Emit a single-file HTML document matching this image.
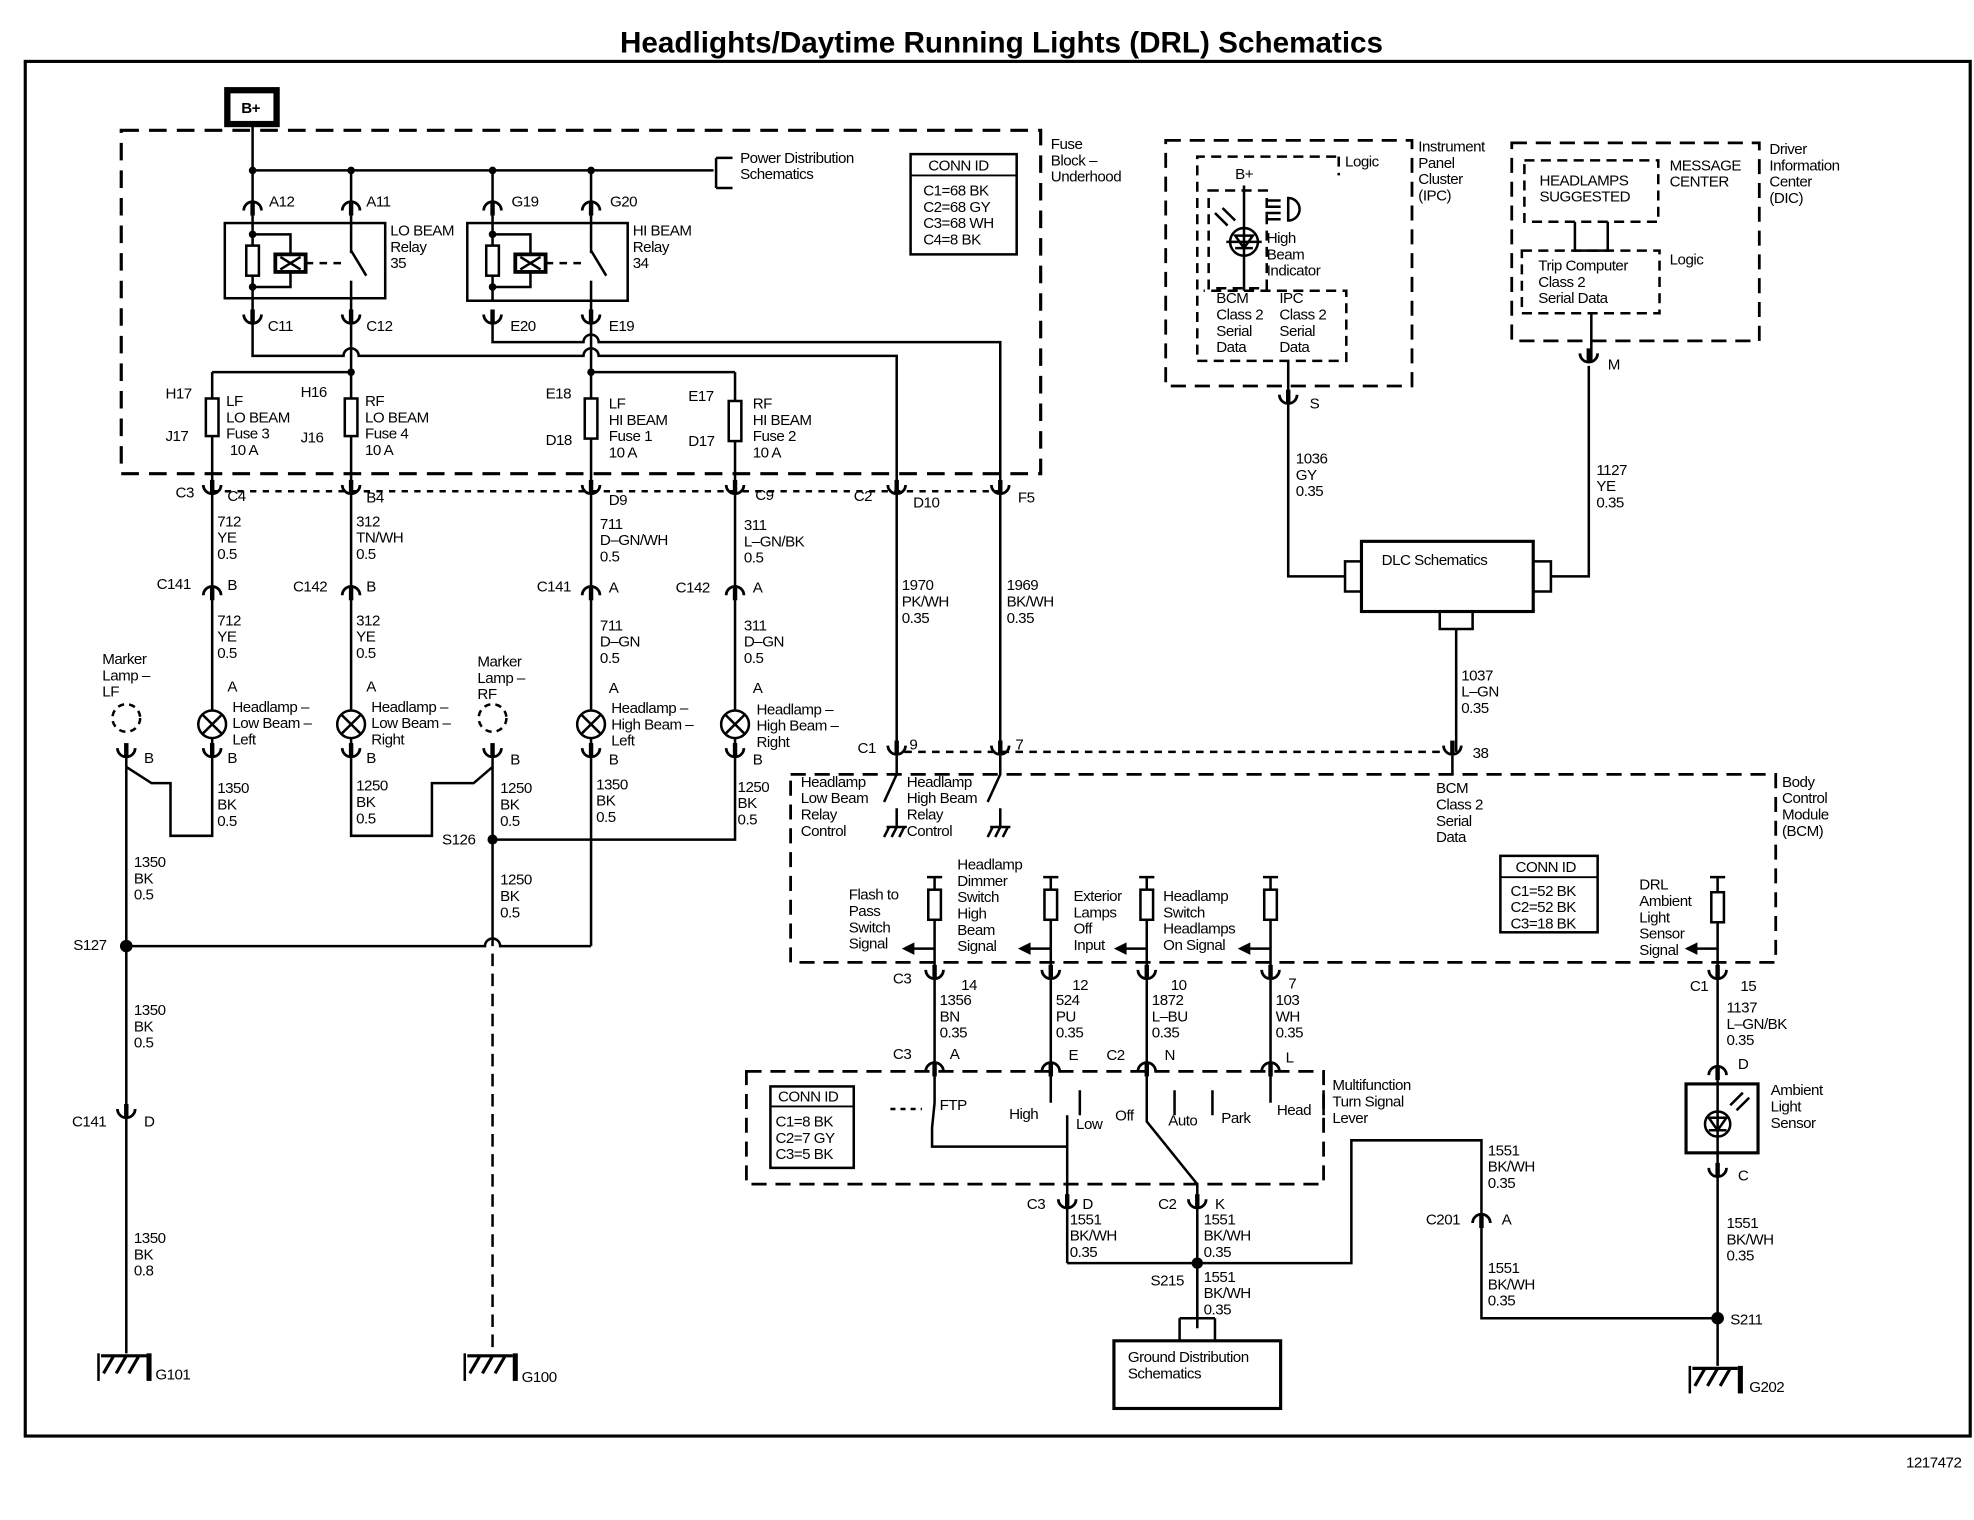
<!DOCTYPE html>
<html><head><meta charset="utf-8"><style>
html,body{margin:0;padding:0;background:#fff}
svg{display:block}
text{font-family:"Liberation Sans",Arial,sans-serif;font-size:12px;fill:#000;letter-spacing:-0.4px}
</style></head><body>
<svg width="1974" height="1520" viewBox="0 0 1563 1213" preserveAspectRatio="none" xmlns="http://www.w3.org/2000/svg">
<defs>
<g id="cup"><path d="M-7,-8 A7,7 0 0 0 7,-8" fill="none" stroke="#000" stroke-width="2.2"/><line x1="0" y1="-12" x2="0" y2="-2" stroke="#000" stroke-width="3.5"/></g>
<g id="cap"><path d="M-7,8 A7,7 0 0 1 7,8" fill="none" stroke="#000" stroke-width="2.2"/><line x1="0" y1="2" x2="0" y2="12" stroke="#000" stroke-width="3.5"/></g>
<g id="lamp"><circle cx="0" cy="0" r="11" fill="#fff" stroke="#000" stroke-width="2"/><path d="M-8,-8 L8,8 M8,-8 L-8,8" stroke="#000" stroke-width="2"/></g>
<g id="gnd"><path d="M-22,0 H14 M-20,14 L-12,0 M-10,14 L-2,0 M0,14 L8,0" stroke="#000" stroke-width="2.5" fill="none"/><path d="M-24,-2 V20" stroke="#000" stroke-width="2"/><path d="M16,-2 V20" stroke="#000" stroke-width="4"/></g>
<g id="res"><rect x="-5" y="0" width="10" height="24" fill="#fff" stroke="#000" stroke-width="2"/></g>
</defs>
<rect width="1563" height="1213" fill="#fff"/>
<text x="793" y="42" text-anchor="middle" style="font-size:23.5px;font-weight:bold;letter-spacing:0px">Headlights/Daytime Running Lights (DRL) Schematics</text>
<rect x="20" y="49" width="1540" height="1097" fill="none" stroke="#000" stroke-width="2.5"/>
<text x="1553" y="1171" text-anchor="end" style="font-size:12px">1217472</text>

<g stroke="#000" fill="none" stroke-width="2">
<rect x="180" y="72" width="39" height="27" stroke-width="5"/>
<rect x="96" y="104" width="728" height="274" stroke-dasharray="14,8" stroke-width="2.5"/>
<path d="M200,100 V250 M200,136 H565 M567,126 V150 M567,126 H580 M567,150 H580"/>
<path d="M278,136 V392 M390,136 V240 M468,136 V392"/>
<rect x="178" y="178" width="127" height="60"/>
<rect x="370" y="178" width="127" height="62"/>
<path d="M200,187 H230 V203 M230,217 V229 H200" />
<path d="M242,210 H272" stroke-dasharray="6,5"/>
<path d="M390,187 H420 V203 M420,217 V229 H390"/>
<path d="M432,210 H462" stroke-dasharray="6,5"/>
<rect x="218" y="203" width="24" height="14" stroke-width="3"/><path d="M222,205 L238,215 M238,205 L222,215"/>
<rect x="408" y="203" width="24" height="14" stroke-width="3"/><path d="M412,205 L428,215 M428,205 L412,215"/>
</g>
<rect x="274" y="202" width="8" height="22" fill="#fff"/><rect x="464" y="202" width="8" height="22" fill="#fff"/>
<g stroke="#000" fill="none" stroke-width="2">
<path d="M278,200 L290,220 M468,200 L480,220"/>
<path d="M200,258 V284 H272 A6,6 0 0 1 284,284 H462 A6,6 0 0 1 474,284 H710 V392"/>
<path d="M390,258 V273 H462 A6,6 0 0 1 474,273 H792 V392"/>
<path d="M168,297 H278 M468,297 H582 M168,297 V392 M582,297 V392"/>
<path d="M710,392 V600 M792,392 V600"/>
<path d="M168,392 H792" stroke-dasharray="5,5"/>
</g>
<circle cx="200" cy="136" r="3"/><circle cx="278" cy="136" r="3"/><circle cx="390" cy="136" r="3"/><circle cx="468" cy="136" r="3"/>
<circle cx="200" cy="187" r="3"/><circle cx="200" cy="229" r="3"/><circle cx="390" cy="187" r="3"/><circle cx="390" cy="229" r="3"/>
<circle cx="278" cy="297" r="3"/><circle cx="468" cy="297" r="3"/>
<use href="#res" x="200" y="196"/><use href="#res" x="390" y="196"/>
<g fill="#fff" stroke="#000" stroke-width="2">
<rect x="163" y="318" width="10" height="30"/><rect x="273" y="318" width="10" height="30"/>
<rect x="463" y="318" width="10" height="32"/><rect x="577" y="320" width="10" height="32"/>
</g>
<use href="#cap" x="200" y="160"/><use href="#cap" x="278" y="160"/><use href="#cap" x="390" y="160"/><use href="#cap" x="468" y="160"/>
<use href="#cup" x="200" y="259"/><use href="#cup" x="278" y="259"/><use href="#cup" x="390" y="259"/><use href="#cup" x="468" y="259"/>
<use href="#cup" x="168" y="395"/><use href="#cup" x="278" y="395"/><use href="#cup" x="468" y="395"/><use href="#cup" x="582" y="395"/><use href="#cup" x="710" y="395"/><use href="#cup" x="792" y="395"/>
<text><tspan x="191" y="90" style="font-weight:bold">B+</tspan></text>
<text x="213" y="165">A12</text><text x="290" y="165">A11</text><text x="405" y="165">G19</text><text x="483" y="165">G20</text>
<text x="309" y="188">LO BEAM<tspan x="309" dy="13">Relay</tspan><tspan x="309" dy="13">35</tspan></text>
<text x="501" y="188">HI BEAM<tspan x="501" dy="13">Relay</tspan><tspan x="501" dy="13">34</tspan></text>
<text x="212" y="264">C11</text><text x="290" y="264">C12</text><text x="404" y="264">E20</text><text x="482" y="264">E19</text>
<text x="586" y="130">Power Distribution<tspan x="586" dy="13">Schematics</tspan></text>
<text x="832" y="119">Fuse<tspan x="832" dy="13">Block –</tspan><tspan x="832" dy="13">Underhood</tspan></text>
<rect x="721" y="123" width="84" height="80" fill="none" stroke="#000" stroke-width="2"/><line x1="721" y1="140" x2="805" y2="140" stroke="#000" stroke-width="1.5"/>
<text x="735" y="136">CONN ID</text><text x="731" y="156">C1=68 BK<tspan x="731" dy="13">C2=68 GY</tspan><tspan x="731" dy="13">C3=68 WH</tspan><tspan x="731" dy="13">C4=8 BK</tspan></text>
<text x="131" y="318">H17</text><text x="131" y="352">J17</text>
<text x="179" y="324">LF<tspan x="179" dy="13">LO BEAM</tspan><tspan x="179" dy="13">Fuse 3</tspan><tspan x="182" dy="13">10 A</tspan></text>
<text x="238" y="317">H16</text><text x="238" y="353">J16</text>
<text x="289" y="324">RF<tspan x="289" dy="13">LO BEAM</tspan><tspan x="289" dy="13">Fuse 4</tspan><tspan x="289" dy="13">10 A</tspan></text>
<text x="432" y="318">E18</text><text x="432" y="355">D18</text>
<text x="482" y="326">LF<tspan x="482" dy="13">HI BEAM</tspan><tspan x="482" dy="13">Fuse 1</tspan><tspan x="482" dy="13">10 A</tspan></text>
<text x="545" y="320">E17</text><text x="545" y="356">D17</text>
<text x="596" y="326">RF<tspan x="596" dy="13">HI BEAM</tspan><tspan x="596" dy="13">Fuse 2</tspan><tspan x="596" dy="13">10 A</tspan></text>
<text x="139" y="397">C3</text><text x="180" y="400">C4</text><text x="290" y="401">B4</text><text x="482" y="403">D9</text><text x="598" y="399">C9</text>
<text x="676" y="400">C2</text><text x="723" y="405">D10</text><text x="806" y="401">F5</text>

<g stroke="#000" fill="none" stroke-width="2">
<path d="M168,395 V667 H135 V625 H120 L100,612 M278,395 V667 H342 V625 H375 L390,612"/>
<path d="M468,395 V755 M582,395 V670 H390"/>
<path d="M100,600 V1080 M100,755 H384 A6,6 0 0 1 396,755 H468"/>
<path d="M390,603 V755"/>
<path d="M390,761 V1080" stroke-dasharray="10,6"/>
<circle cx="100" cy="573" r="11" stroke-dasharray="5,4"/><circle cx="390" cy="573" r="11" stroke-dasharray="5,4"/>
</g>
<circle cx="390" cy="670" r="4"/><circle cx="100" cy="755" r="5"/>
<use href="#cap" x="168" y="467"/><use href="#cap" x="278" y="467"/><use href="#cap" x="468" y="467"/><use href="#cap" x="582" y="467"/>
<use href="#lamp" x="168" y="578"/><use href="#lamp" x="278" y="578"/><use href="#lamp" x="468" y="578"/><use href="#lamp" x="582" y="578"/>
<use href="#cup" x="168" y="605"/><use href="#cup" x="278" y="605"/><use href="#cup" x="468" y="605"/><use href="#cup" x="582" y="605"/>
<use href="#cup" x="100" y="605"/><use href="#cup" x="390" y="605"/><use href="#cup" x="100" y="893"/>
<use href="#gnd" x="102" y="1082"/><use href="#gnd" x="392" y="1082"/><use href="#gnd" x="1362" y="1092"/>
<text x="172" y="420">712<tspan x="172" dy="13">YE</tspan><tspan x="172" dy="13">0.5</tspan></text>
<text x="282" y="420">312<tspan x="282" dy="13">TN/WH</tspan><tspan x="282" dy="13">0.5</tspan></text>
<text x="475" y="422">711<tspan x="475" dy="13">D–GN/WH</tspan><tspan x="475" dy="13">0.5</tspan></text>
<text x="589" y="423">311<tspan x="589" dy="13">L–GN/BK</tspan><tspan x="589" dy="13">0.5</tspan></text>
<text x="124" y="470">C141</text><text x="180" y="471">B</text><text x="232" y="472">C142</text><text x="290" y="472">B</text>
<text x="425" y="472">C141</text><text x="482" y="473">A</text><text x="535" y="473">C142</text><text x="596" y="473">A</text>
<text x="172" y="499">712<tspan x="172" dy="13">YE</tspan><tspan x="172" dy="13">0.5</tspan></text>
<text x="282" y="499">312<tspan x="282" dy="13">YE</tspan><tspan x="282" dy="13">0.5</tspan></text>
<text x="475" y="503">711<tspan x="475" dy="13">D–GN</tspan><tspan x="475" dy="13">0.5</tspan></text>
<text x="589" y="503">311<tspan x="589" dy="13">D–GN</tspan><tspan x="589" dy="13">0.5</tspan></text>
<text x="81" y="530">Marker<tspan x="81" dy="13">Lamp –</tspan><tspan x="81" dy="13">LF</tspan></text>
<text x="378" y="532">Marker<tspan x="378" dy="13">Lamp –</tspan><tspan x="378" dy="13">RF</tspan></text>
<text x="180" y="552">A</text><text x="290" y="552">A</text><text x="482" y="553">A</text><text x="596" y="553">A</text>
<text x="184" y="568">Headlamp –<tspan x="184" dy="13">Low Beam –</tspan><tspan x="184" dy="13">Left</tspan></text>
<text x="294" y="568">Headlamp –<tspan x="294" dy="13">Low Beam –</tspan><tspan x="294" dy="13">Right</tspan></text>
<text x="484" y="569">Headlamp –<tspan x="484" dy="13">High Beam –</tspan><tspan x="484" dy="13">Left</tspan></text>
<text x="599" y="570">Headlamp –<tspan x="599" dy="13">High Beam –</tspan><tspan x="599" dy="13">Right</tspan></text>
<text x="114" y="609">B</text><text x="180" y="609">B</text><text x="290" y="609">B</text><text x="404" y="610">B</text><text x="482" y="610">B</text><text x="596" y="610">B</text>
<text x="172" y="633">1350<tspan x="172" dy="13">BK</tspan><tspan x="172" dy="13">0.5</tspan></text>
<text x="282" y="631">1250<tspan x="282" dy="13">BK</tspan><tspan x="282" dy="13">0.5</tspan></text>
<text x="396" y="633">1250<tspan x="396" dy="13">BK</tspan><tspan x="396" dy="13">0.5</tspan></text>
<text x="472" y="630">1350<tspan x="472" dy="13">BK</tspan><tspan x="472" dy="13">0.5</tspan></text>
<text x="584" y="632">1250<tspan x="584" dy="13">BK</tspan><tspan x="584" dy="13">0.5</tspan></text>
<text x="350" y="674">S126</text>
<text x="106" y="692">1350<tspan x="106" dy="13">BK</tspan><tspan x="106" dy="13">0.5</tspan></text>
<text x="396" y="706">1250<tspan x="396" dy="13">BK</tspan><tspan x="396" dy="13">0.5</tspan></text>
<text x="58" y="758">S127</text>
<text x="106" y="810">1350<tspan x="106" dy="13">BK</tspan><tspan x="106" dy="13">0.5</tspan></text>
<text x="57" y="899">C141</text><text x="114" y="899">D</text>
<text x="106" y="992">1350<tspan x="106" dy="13">BK</tspan><tspan x="106" dy="13">0.8</tspan></text>
<text x="123" y="1101">G101</text><text x="413" y="1103">G100</text><text x="1385" y="1111">G202</text>

<g stroke="#000" fill="none" stroke-width="2.2" stroke-dasharray="12,7">
<rect x="923" y="112" width="195" height="196"/>
<rect x="1197" y="114" width="196" height="158"/>
</g>
<g stroke="#000" fill="none" stroke-width="2" stroke-dasharray="8,5">
<path d="M1058,125 H948 V288 H1066 V232 H953"/>
<rect x="957" y="152" width="46" height="78"/>
<rect x="1207" y="128" width="106" height="49"/>
<rect x="1205" y="200" width="109" height="50"/>
<path d="M1060,125 V140"/>
</g>
<g stroke="#000" fill="none" stroke-width="2">
<path d="M985,148 V232 M971,193 H999"/>
<circle cx="985" cy="193" r="11"/>
<path d="M978,188 H992 L985,198 Z M978,198 H992" fill="none"/>
<path d="M962,170 L972,180 M968,166 L978,176"/>
<path d="M1020,158 A9,9 0 0 1 1020,176 Z M1002,160 H1014 M1002,165 H1014 M1002,170 H1014 M1002,175 H1014"/>
<path d="M1247,177 V200 H1273 V177 M1260,250 V288"/>
<path d="M1020,288 V460 H1065 M1065,448 H1078 V472 H1065 Z"/>
<path d="M1258,292 V460 H1228 M1214,448 H1228 V472 H1214"/>
<rect x="1078" y="432" width="136" height="56" stroke-width="2.5"/>
<path d="M1140,488 V502 H1166 V488 M1153,502 V600"/>
</g>
<use href="#cup" x="1020" y="323"/><use href="#cup" x="1258" y="290"/><use href="#cup" x="1150" y="603"/>
<text x="978" y="143">B+</text><text x="1065" y="133">Logic</text>
<text x="1003" y="194">High<tspan x="1003" dy="13">Beam</tspan><tspan x="1003" dy="13">Indicator</tspan></text>
<text x="963" y="242">BCM<tspan x="963" dy="13">Class 2</tspan><tspan x="963" dy="13">Serial</tspan><tspan x="963" dy="13">Data</tspan></text>
<text x="1013" y="242">IPC<tspan x="1013" dy="13">Class 2</tspan><tspan x="1013" dy="13">Serial</tspan><tspan x="1013" dy="13">Data</tspan></text>
<text x="1123" y="121">Instrument<tspan x="1123" dy="13">Panel</tspan><tspan x="1123" dy="13">Cluster</tspan><tspan x="1123" dy="13">(IPC)</tspan></text>
<text x="1219" y="148">HEADLAMPS<tspan x="1219" dy="13">SUGGESTED</tspan></text>
<text x="1322" y="136">MESSAGE<tspan x="1322" dy="13">CENTER</tspan></text>
<text x="1218" y="216">Trip Computer<tspan x="1218" dy="13">Class 2</tspan><tspan x="1218" dy="13">Serial Data</tspan></text>
<text x="1322" y="211">Logic</text>
<text x="1401" y="123">Driver<tspan x="1401" dy="13">Information</tspan><tspan x="1401" dy="13">Center</tspan><tspan x="1401" dy="13">(DIC)</tspan></text>
<text x="1037" y="326">S</text><text x="1273" y="295">M</text>
<text x="1026" y="370">1036<tspan x="1026" dy="13">GY</tspan><tspan x="1026" dy="13">0.35</tspan></text>
<text x="1264" y="379">1127<tspan x="1264" dy="13">YE</tspan><tspan x="1264" dy="13">0.35</tspan></text>
<text x="1094" y="451">DLC Schematics</text>
<text x="1157" y="543">1037<tspan x="1157" dy="13">L–GN</tspan><tspan x="1157" dy="13">0.35</tspan></text>
<text x="714" y="471">1970<tspan x="714" dy="13">PK/WH</tspan><tspan x="714" dy="13">0.35</tspan></text>
<text x="797" y="471">1969<tspan x="797" dy="13">BK/WH</tspan><tspan x="797" dy="13">0.35</tspan></text>

<g stroke="#000" fill="none" stroke-width="2.2">
<path d="M626,618 H1406 V768 H626 Z" stroke-dasharray="12,7"/>
<path d="M716,600 H1143" stroke-dasharray="6,5" stroke-width="2"/>
</g>
<use href="#cup" x="710" y="603"/><use href="#cup" x="792" y="603"/>
<g stroke="#000" fill="none" stroke-width="2">
<path d="M710,603 V618 L700,640 M710,645 V660 M702,660 H718 M704,660 L700,668 M710,660 L706,668 M716,660 L712,668"/>
<path d="M792,603 V618 L782,640 M792,645 V660 M784,660 H800 M786,660 L782,668 M792,660 L788,668 M798,660 L794,668"/>
<path d="M1150,603 V618"/>
<path d="M734,700 H746 M740,700 V778 M826,700 H838 M832,700 V778 M902,700 H914 M908,700 V778 M1000,700 H1012 M1006,700 V778 M1354,700 H1366 M1360,700 V852"/>
<path d="M740,757 H722 M832,757 H814 M908,757 H890 M1006,757 H988 M1360,757 H1342"/>
</g>
<g fill="#000"><path d="M714,757 L724,752 V762 Z"/><path d="M806,757 L816,752 V762 Z"/><path d="M882,757 L892,752 V762 Z"/><path d="M980,757 L990,752 V762 Z"/><path d="M1334,757 L1344,752 V762 Z"/></g>
<use href="#res" x="740" y="710"/><use href="#res" x="832" y="710"/><use href="#res" x="908" y="710"/><use href="#res" x="1006" y="710"/><use href="#res" x="1360" y="712"/>
<text x="679" y="601">C1</text><text x="720" y="598">9</text><text x="804" y="598">7</text><text x="1166" y="605">38</text>
<text x="634" y="628">Headlamp<tspan x="634" dy="13">Low Beam</tspan><tspan x="634" dy="13">Relay</tspan><tspan x="634" dy="13">Control</tspan></text>
<text x="718" y="628">Headlamp<tspan x="718" dy="13">High Beam</tspan><tspan x="718" dy="13">Relay</tspan><tspan x="718" dy="13">Control</tspan></text>
<text x="1137" y="633">BCM<tspan x="1137" dy="13">Class 2</tspan><tspan x="1137" dy="13">Serial</tspan><tspan x="1137" dy="13">Data</tspan></text>
<text x="1411" y="628">Body<tspan x="1411" dy="13">Control</tspan><tspan x="1411" dy="13">Module</tspan><tspan x="1411" dy="13">(BCM)</tspan></text>
<rect x="1188" y="683" width="77" height="61" fill="none" stroke="#000" stroke-width="2"/><line x1="1188" y1="700" x2="1265" y2="700" stroke="#000" stroke-width="1.5"/>
<text x="1200" y="696">CONN ID</text><text x="1196" y="715">C1=52 BK<tspan x="1196" dy="13">C2=52 BK</tspan><tspan x="1196" dy="13">C3=18 BK</tspan></text>
<text x="672" y="718">Flash to<tspan x="672" dy="13">Pass</tspan><tspan x="672" dy="13">Switch</tspan><tspan x="672" dy="13">Signal</tspan></text>
<text x="758" y="694">Headlamp<tspan x="758" dy="13">Dimmer</tspan><tspan x="758" dy="13">Switch</tspan><tspan x="758" dy="13">High</tspan><tspan x="758" dy="13">Beam</tspan><tspan x="758" dy="13">Signal</tspan></text>
<text x="850" y="719">Exterior<tspan x="850" dy="13">Lamps</tspan><tspan x="850" dy="13">Off</tspan><tspan x="850" dy="13">Input</tspan></text>
<text x="921" y="719">Headlamp<tspan x="921" dy="13">Switch</tspan><tspan x="921" dy="13">Headlamps</tspan><tspan x="921" dy="13">On Signal</tspan></text>
<text x="1298" y="710">DRL<tspan x="1298" dy="13">Ambient</tspan><tspan x="1298" dy="13">Light</tspan><tspan x="1298" dy="13">Sensor</tspan><tspan x="1298" dy="13">Signal</tspan></text>

<use href="#cup" x="740" y="782"/><use href="#cup" x="832" y="782"/><use href="#cup" x="908" y="782"/><use href="#cup" x="1006" y="782"/><use href="#cup" x="1360" y="782"/>
<g stroke="#000" fill="none" stroke-width="2">
<path d="M740,782 V852 M832,782 V852 M908,782 V852 M1006,782 V852"/>
<rect x="591" y="855" width="457" height="90" stroke-dasharray="12,7" stroke-width="2.2"/>
<path d="M740,852 V880 M740,880 L738,900 V915 H845"/>
<path d="M705,885 H730" stroke-dasharray="4,4"/>
<path d="M832,852 V880 M845,890 V1008 M855,870 V890 M908,852 V895 L948,945 V1052 M930,870 V890 M960,870 V890 M1006,852 V880 M1048,870 V890"/>
<path d="M845,1008 H948 H1070 V910 H1173 V968 M1173,975 V1052 H1360 M1360,862 V1090"/>
<path d="M934,1052 H962 M934,1052 V1070 M962,1052 V1070 M948,1052 V1060"/>
<rect x="882" y="1070" width="132" height="54" stroke-width="2.5"/>
<rect x="1335" y="865" width="57" height="55" stroke-width="2.5"/>
<circle cx="1360" cy="897" r="10"/>
<path d="M1353,892 H1367 L1360,902 Z M1353,902 H1367 M1370,882 L1380,872 M1375,886 L1385,876"/>
</g>
<circle cx="948" cy="1008" r="4.5"/><circle cx="1360" cy="1052" r="5"/>
<use href="#cap" x="740" y="847"/><use href="#cap" x="832" y="847"/><use href="#cap" x="908" y="847"/><use href="#cap" x="1006" y="847"/><use href="#cap" x="1360" y="850"/>
<use href="#cup" x="845" y="965"/><use href="#cup" x="948" y="965"/><use href="#cup" x="1360" y="940"/><use href="#cap" x="1173" y="968"/>
<text x="707" y="785">C3</text><text x="761" y="790">14</text><text x="849" y="790">12</text><text x="927" y="790">10</text><text x="1020" y="789">7</text><text x="1338" y="791">C1</text><text x="1378" y="791">15</text>
<text x="744" y="802">1356<tspan x="744" dy="13">BN</tspan><tspan x="744" dy="13">0.35</tspan></text>
<text x="836" y="802">524<tspan x="836" dy="13">PU</tspan><tspan x="836" dy="13">0.35</tspan></text>
<text x="912" y="802">1872<tspan x="912" dy="13">L–BU</tspan><tspan x="912" dy="13">0.35</tspan></text>
<text x="1010" y="802">103<tspan x="1010" dy="13">WH</tspan><tspan x="1010" dy="13">0.35</tspan></text>
<text x="1367" y="808">1137<tspan x="1367" dy="13">L–GN/BK</tspan><tspan x="1367" dy="13">0.35</tspan></text>
<text x="707" y="845">C3</text><text x="752" y="845">A</text><text x="846" y="846">E</text><text x="876" y="846">C2</text><text x="922" y="846">N</text><text x="1018" y="848">L</text>
<text x="1376" y="853">D</text><text x="1376" y="942">C</text>
<rect x="610" y="867" width="66" height="65" fill="none" stroke="#000" stroke-width="2"/><line x1="610" y1="883" x2="676" y2="883" stroke="#000" stroke-width="1.5"/>
<text x="616" y="879">CONN ID</text><text x="614" y="899">C1=8 BK<tspan x="614" dy="13">C2=7 GY</tspan><tspan x="614" dy="13">C3=5 BK</tspan></text>
<text x="744" y="886">FTP</text><text x="799" y="893">High</text><text x="852" y="901">Low</text><text x="883" y="894">Off</text><text x="925" y="898">Auto</text><text x="967" y="896">Park</text><text x="1011" y="890">Head</text>
<text x="1055" y="870">Multifunction<tspan x="1055" dy="13">Turn Signal</tspan><tspan x="1055" dy="13">Lever</tspan></text>
<text x="1402" y="874">Ambient<tspan x="1402" dy="13">Light</tspan><tspan x="1402" dy="13">Sensor</tspan></text>
<text x="813" y="965">C3</text><text x="857" y="965">D</text><text x="917" y="965">C2</text><text x="962" y="965">K</text>
<text x="1129" y="977">C201</text><text x="1189" y="977">A</text>
<text x="847" y="977">1551<tspan x="847" dy="13">BK/WH</tspan><tspan x="847" dy="13">0.35</tspan></text>
<text x="953" y="977">1551<tspan x="953" dy="13">BK/WH</tspan><tspan x="953" dy="13">0.35</tspan></text>
<text x="911" y="1026">S215</text>
<text x="953" y="1023">1551<tspan x="953" dy="13">BK/WH</tspan><tspan x="953" dy="13">0.35</tspan></text>
<text x="1178" y="922">1551<tspan x="1178" dy="13">BK/WH</tspan><tspan x="1178" dy="13">0.35</tspan></text>
<text x="1178" y="1016">1551<tspan x="1178" dy="13">BK/WH</tspan><tspan x="1178" dy="13">0.35</tspan></text>
<text x="1367" y="980">1551<tspan x="1367" dy="13">BK/WH</tspan><tspan x="1367" dy="13">0.35</tspan></text>
<text x="1370" y="1057">S211</text>
<text x="893" y="1087">Ground Distribution<tspan x="893" dy="13">Schematics</tspan></text>
</svg>
</body></html>
